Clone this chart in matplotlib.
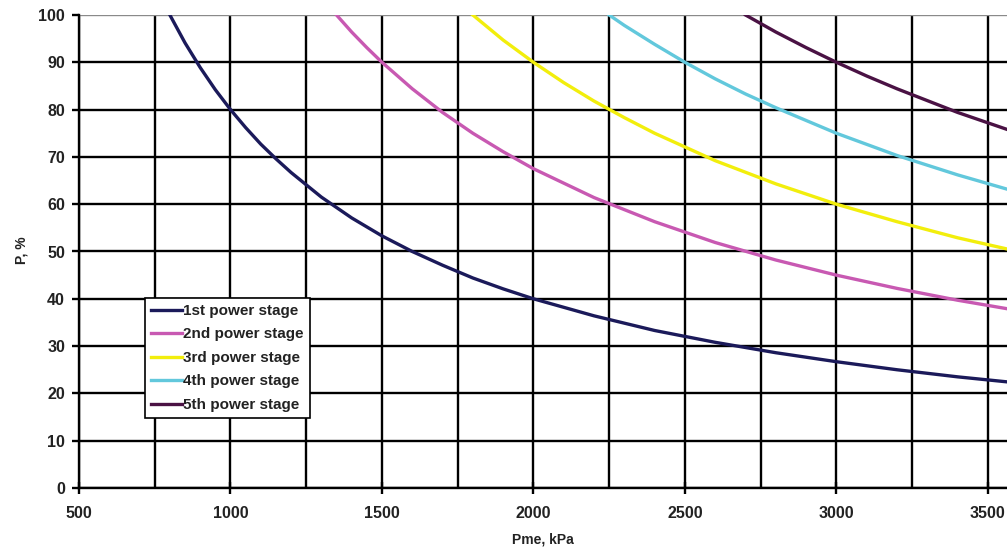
import matplotlib
matplotlib.use("Agg")
import matplotlib.pyplot as plt
from matplotlib.ticker import MultipleLocator

plt.rcParams['font.family'] = ['Liberation Sans', 'DejaVu Sans']

# Data (Pme in kPa, P in %)
x1 = [800, 850, 900, 950, 1000, 1050, 1100, 1150, 1200, 1300, 1400, 1500, 1600, 1700, 1800, 1900, 2000,
      2200, 2400, 2600, 2800, 3000, 3200, 3400, 3600]
y1 = [100, 94.1, 88.9, 84.2, 80, 76.2, 72.7, 69.6, 66.7, 61.5, 57.1, 53.3, 50, 47.1, 44.4, 42.1, 40,
      36.4, 33.3, 30.8, 28.6, 26.7, 25, 23.5, 22.2]

x2 = [1350, 1400, 1450, 1500, 1600, 1700, 1800, 1900, 2000, 2200, 2400, 2600, 2800, 3000, 3200, 3400, 3600]
y2 = [100, 96.4, 93.1, 90, 84.4, 79.4, 75, 71.1, 67.5, 61.4, 56.3, 51.9, 48.2, 45, 42.2, 39.7, 37.5]

x3 = [1800, 1900, 2000, 2100, 2200, 2300, 2400, 2600, 2800, 3000, 3200, 3400, 3600]
y3 = [100, 94.7, 90, 85.7, 81.8, 78.3, 75, 69.2, 64.3, 60, 56.3, 52.9, 50]

x4 = [2250, 2300, 2400, 2500, 2600, 2700, 2800, 3000, 3200, 3400, 3600]
y4 = [100, 97.8, 93.8, 90, 86.5, 83.3, 80.4, 75, 70.3, 66.2, 62.5]

x5 = [2700, 2800, 2900, 3000, 3100, 3200, 3400, 3600]
y5 = [100, 96.4, 93.1, 90, 87.1, 84.4, 79.4, 75]

labels = ["1st power stage", "2nd power stage", "3rd power stage",
          "4th power stage", "5th power stage"]
colors = ["#1b1a5a", "#c859b2", "#f2ee0c", "#62c8dc", "#4a1244"]

x_ticks = [500, 1000, 1500, 2000, 2500, 3000, 3500]
y_ticks = [0, 10, 20, 30, 40, 50, 60, 70, 80, 90, 100]

fig = plt.figure(figsize=(10.07, 5.52), dpi=100)
ax = fig.add_axes([79/1007, 64/552, 928/1007, 473/552])

ax.set_xlim(500, 3563)
ax.set_ylim(0, 100)
ax.set_xticks(x_ticks)
ax.xaxis.set_minor_locator(MultipleLocator(250))
ax.set_yticks(y_ticks)
ax.grid(True, which='both', color='black', linewidth=1.7, zorder=1)
ax.set_axisbelow(True)
# top gridline appears lighter in the reference
ax.get_ygridlines()[-1].set_color('#8a8a8a')

for sp in ['right', 'top']:
    ax.spines[sp].set_visible(False)
for sp in ['left', 'bottom']:
    ax.spines[sp].set_linewidth(1.7)
    ax.spines[sp].set_color('black')

ax.tick_params(axis='x', which='major', direction='inout', length=8, width=1.7, pad=9,
               labelsize=11.5)
ax.tick_params(axis='x', which='minor', length=0)
ax.tick_params(axis='y', direction='out', length=5, width=1.7, pad=5, labelsize=11.5)
for lab in ax.get_xticklabels() + ax.get_yticklabels():
    lab.set_fontweight('bold')
    lab.set_color('#222222')

series = [(x1, y1), (x2, y2), (x3, y3), (x4, y4), (x5, y5)]
for (xs, ys), lab, c in zip(series, labels, colors):
    ax.plot(xs, ys, color=c, linewidth=2.4, label=lab, zorder=3, clip_on=True,
            solid_joinstyle='round')

fig.text(543/1007, 1 - 540/552, "Pme, kPa", fontsize=10, fontweight='bold',
         color='#222222', ha='center', va='center')
fig.text(22/1007, 1 - 250/552, "P, %", fontsize=10, fontweight='bold',
         color='#222222', ha='center', va='center', rotation=90)

leg = ax.legend(loc='upper left', bbox_to_anchor=(0.071, 0.402), fontsize=11,
                frameon=True, fancybox=False, edgecolor='black', handlelength=2.0,
                handletextpad=0.1, borderpad=0.4, labelspacing=0.62, framealpha=1,
                borderaxespad=0)
leg.get_frame().set_linewidth(1.2)
for t in leg.get_texts():
    t.set_fontweight('bold')
    t.set_color('#222222')
leg.set_zorder(5)

fig.savefig("out.png", dpi=100)
